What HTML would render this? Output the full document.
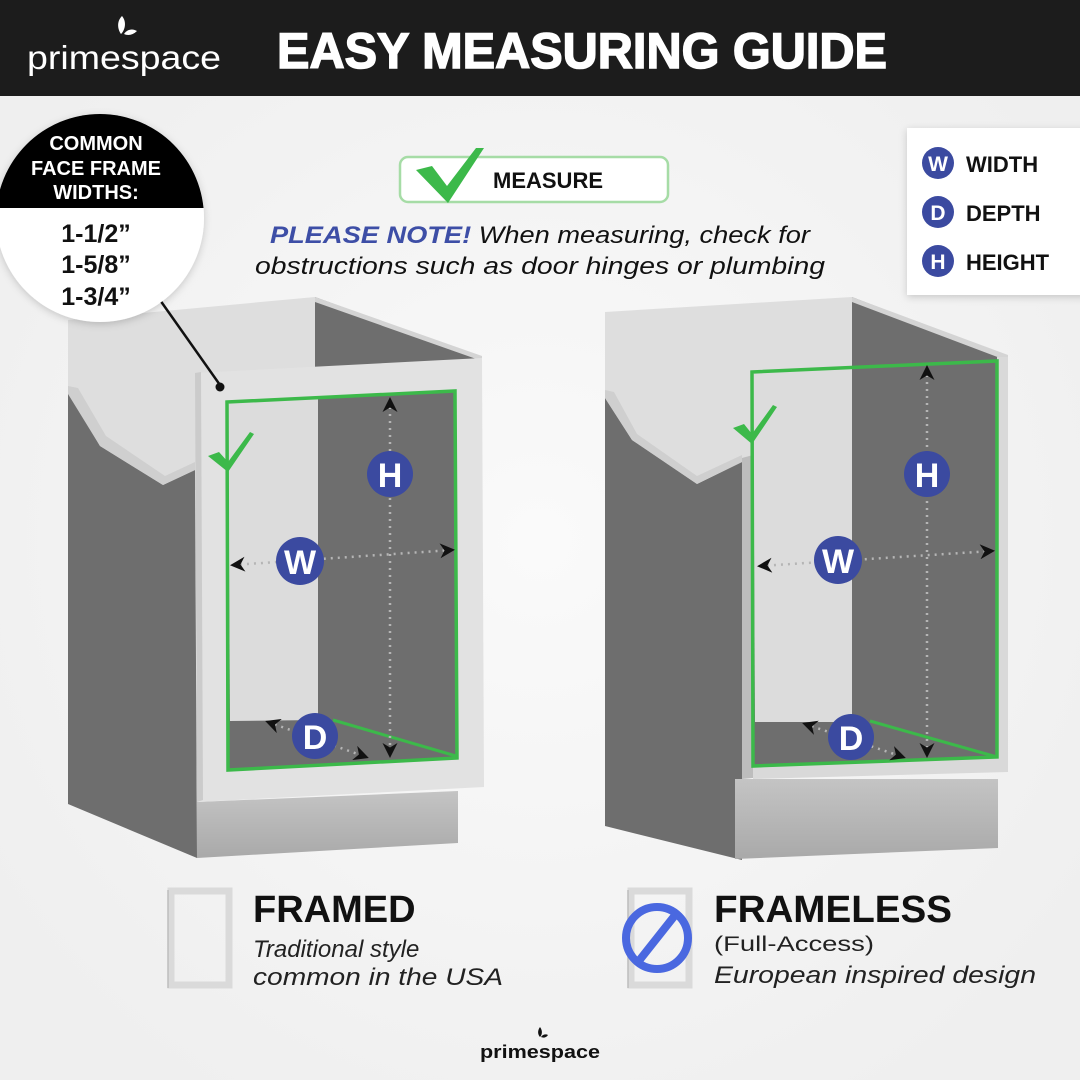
<!DOCTYPE html>
<html><head><meta charset="utf-8"><style>
html,body{margin:0;padding:0;}
body{width:1080px;height:1080px;overflow:hidden;background:#f3f3f3;}
svg{display:block}
text{font-family:"Liberation Sans",sans-serif;}
</style></head><body>
<svg width="1080" height="1080" viewBox="0 0 1080 1080" xmlns="http://www.w3.org/2000/svg">
<defs>
<radialGradient id="bg" cx="0.5" cy="0.5" r="0.6"><stop offset="0" stop-color="#fafafa"/><stop offset="1" stop-color="#efefef"/></radialGradient>
<linearGradient id="toe" x1="0" y1="0" x2="0" y2="1"><stop offset="0" stop-color="#c4c4c4"/><stop offset="1" stop-color="#a9a9a9"/></linearGradient>
<filter id="sh" x="-20%" y="-20%" width="140%" height="140%"><feDropShadow dx="0" dy="2" stdDeviation="4" flood-color="#000" flood-opacity="0.18"/></filter>
<marker id="ar" viewBox="0 0 10 10" refX="8" refY="5" markerWidth="6" markerHeight="6" orient="auto-start-reverse"><path d="M0,0 L10,5 L0,10 L3,5 z" fill="#111"/></marker>
</defs>
<rect width="1080" height="1080" fill="url(#bg)"/>

<!-- header -->
<rect x="0" y="0" width="1080" height="96" fill="#1c1c1c"/>
<path d="M122,16 C116,22 118,30 121,34 C125,30 127,22 122,16 z" fill="#fff"/>
<path d="M124,34 C128,28 134,29 137,31 C133,35 128,36 124,34 z" fill="#fff"/>
<text x="27" y="69" font-size="33" fill="#fff" textLength="194" lengthAdjust="spacingAndGlyphs">primespace</text>
<text x="277" y="68" font-size="50" font-weight="bold" fill="#fff" stroke="#fff" stroke-width="1.5" textLength="610" lengthAdjust="spacingAndGlyphs">EASY MEASURING GUIDE</text>

<!-- LEFT CABINET -->
<polygon points="68,320 315,297 315,490 68,490" fill="#dedede"/>
<polygon points="315,297 482,358 482,780 315,780" fill="#6e6e6e"/>
<polygon points="315,297 482,356 482,361 315,302" fill="#d4d4d4"/>
<polygon points="68,392 100,446 163,485 195,470 197,858 68,804" fill="#6e6e6e"/>
<polygon points="68,386 78,388 106,436 165,476 195,462 195,470 163,485 100,446 68,394" fill="#cfcfcf"/>
<polygon points="197,802 458,791 458,843 197,858" fill="url(#toe)"/>
<polygon points="195,373 482,358 484,787 197,802" fill="#e2e2e2"/>
<polygon points="195,373 201,372 203,800 197,802" fill="#cbcbcb"/>
<!-- opening -->
<polygon points="227,402 455,391 457,758 228,770" fill="#6e6e6e"/>
<polygon points="228,402 318,398 318,720 230,721" fill="#dcdcdc"/>
<polygon points="227,402 455,391 457,758 228,770" fill="none" stroke="#3cb94a" stroke-width="3.5"/>
<line x1="333" y1="720" x2="456" y2="756" stroke="#3cb94a" stroke-width="3"/>
<g stroke="#b5b5b5" stroke-width="2.5" stroke-dasharray="2 5" fill="none">
<line x1="390" y1="400" x2="390" y2="755" marker-start="url(#ar)" marker-end="url(#ar)"/>
<line x1="233" y1="565" x2="452" y2="550" marker-start="url(#ar)" marker-end="url(#ar)"/>
<line x1="268" y1="722" x2="366" y2="757" marker-start="url(#ar)" marker-end="url(#ar)"/>
</g>
<path d="M208,456 L219,452 L228,462 L250,432 L254,434 L228,472 z" fill="#3cb94a"/>
<line x1="160" y1="300" x2="220" y2="385" stroke="#111" stroke-width="2.5"/>
<circle cx="220" cy="387" r="4.5" fill="#111"/>

<!-- RIGHT CABINET -->
<polygon points="605,312 852,297 852,490 605,490" fill="#dedede"/>
<polygon points="852,297 1008,357 1008,770 852,770" fill="#6e6e6e"/>
<polygon points="852,297 1008,355 1008,361 852,302" fill="#d4d4d4"/>
<polygon points="605,398 632,440 697,484 742,462 742,860 605,826" fill="#6e6e6e"/>
<polygon points="605,390 614,392 637,434 697,476 742,455 742,462 697,484 632,440 605,398" fill="#cfcfcf"/>
<polygon points="742,458 753,455 753,778 742,779" fill="#bdbdbd"/>
<polygon points="735,779 998,779 998,848 735,859" fill="url(#toe)"/>
<polygon points="752,372 997,361 997,757 753,766" fill="#6e6e6e"/>
<polygon points="753,372 852,368 852,722 755,722" fill="#dcdcdc"/>
<polygon points="997,357 1008,357 1008,772 997,772" fill="#d9d9d9"/>
<polygon points="753,766 1008,758 1008,772 753,779" fill="#d9d9d9"/>
<polygon points="752,372 997,361 997,757 753,766" fill="none" stroke="#3cb94a" stroke-width="3.5"/>
<line x1="870" y1="721" x2="997" y2="757" stroke="#3cb94a" stroke-width="3"/>
<g stroke="#b5b5b5" stroke-width="2.5" stroke-dasharray="2 5" fill="none">
<line x1="927" y1="368" x2="927" y2="755" marker-start="url(#ar)" marker-end="url(#ar)"/>
<line x1="760" y1="566" x2="992" y2="551" marker-start="url(#ar)" marker-end="url(#ar)"/>
<line x1="805" y1="724" x2="903" y2="757" marker-start="url(#ar)" marker-end="url(#ar)"/>
</g>
<path d="M733,428 L744,424 L752,434 L773,405 L777,407 L752,444 z" fill="#3cb94a"/>

<!-- letter circles -->
<g font-weight="bold" fill="#fff" text-anchor="middle">
<circle cx="390" cy="474" r="23" fill="#3b4aa0"/>
<text x="390" y="487" font-size="34" fill="#fff">H</text>
<circle cx="300" cy="561" r="24" fill="#3b4aa0"/>
<text x="300" y="574" font-size="34" fill="#fff">W</text>
<circle cx="315" cy="736" r="23" fill="#3b4aa0"/>
<text x="315" y="749" font-size="34" fill="#fff">D</text>
<circle cx="927" cy="474" r="23" fill="#3b4aa0"/>
<text x="927" y="487" font-size="34" fill="#fff">H</text>
<circle cx="838" cy="560" r="24" fill="#3b4aa0"/>
<text x="838" y="573" font-size="34" fill="#fff">W</text>
<circle cx="851" cy="737" r="23" fill="#3b4aa0"/>
<text x="851" y="750" font-size="34" fill="#fff">D</text>
</g>

<!-- badge circle -->
<g filter="url(#sh)">
<circle cx="100" cy="218" r="104" fill="#fff"/>
</g>
<clipPath id="cc"><circle cx="100" cy="218" r="104"/></clipPath>
<rect x="-10" y="100" width="220" height="108" fill="#000" clip-path="url(#cc)"/>
<g text-anchor="middle" font-weight="bold">
<text x="96" y="150" font-size="20" fill="#fff">COMMON</text>
<text x="96" y="175" font-size="20" fill="#fff">FACE FRAME</text>
<text x="96" y="199" font-size="20" fill="#fff">WIDTHS:</text>
<text x="96" y="242" font-size="25" fill="#111">1-1/2”</text>
<text x="96" y="273" font-size="25" fill="#111">1-5/8”</text>
<text x="96" y="305" font-size="25" fill="#111">1-3/4”</text>
</g>

<!-- measure box -->
<rect x="400" y="157" width="268" height="45" rx="8" fill="#fff" stroke="#a6dca6" stroke-width="2.5"/>
<path d="M416,170 L432,166 L447,186 L476,148 L484,148 L448,203 z" fill="#3cb94a"/>
<text x="493" y="188" font-size="22" font-weight="bold" fill="#111">MEASURE</text>

<!-- note -->
<text x="270" y="243" font-size="24" font-style="italic" fill="#111" textLength="540" lengthAdjust="spacingAndGlyphs"><tspan font-weight="bold" fill="#3d4ea6">PLEASE NOTE!</tspan> When measuring, check for</text>
<text x="255" y="274" font-size="24" font-style="italic" fill="#111" textLength="570" lengthAdjust="spacingAndGlyphs">obstructions such as door hinges or plumbing</text>

<!-- legend -->
<rect x="907" y="128" width="180" height="167" fill="#fff" filter="url(#sh)"/>
<g font-weight="bold" text-anchor="middle">
<circle cx="938" cy="163" r="16" fill="#3b4aa0"/><text x="938" y="171" font-size="21" fill="#fff">W</text>
<circle cx="938" cy="212" r="16" fill="#3b4aa0"/><text x="938" y="220" font-size="21" fill="#fff">D</text>
<circle cx="938" cy="261" r="16" fill="#3b4aa0"/><text x="938" y="269" font-size="21" fill="#fff">H</text>
</g>
<g font-weight="bold" font-size="22" fill="#111">
<text x="966" y="172">WIDTH</text>
<text x="966" y="221">DEPTH</text>
<text x="966" y="270">HEIGHT</text>
</g>

<!-- bottom labels -->
<rect x="171" y="891" width="58" height="94" fill="none" stroke="#dadada" stroke-width="7"/>
<line x1="168" y1="890" x2="168" y2="988" stroke="#bdbdbd" stroke-width="1.5"/>
<text x="253" y="922" font-size="38" font-weight="bold" fill="#111">FRAMED</text>
<text x="253" y="957" font-size="24" font-style="italic" fill="#222">Traditional style</text>
<text x="253" y="985" font-size="24" font-style="italic" fill="#222" textLength="250" lengthAdjust="spacingAndGlyphs">common in the USA</text>

<rect x="631" y="891" width="58" height="94" fill="none" stroke="#dadada" stroke-width="7"/>
<line x1="628" y1="890" x2="628" y2="988" stroke="#bdbdbd" stroke-width="1.5"/>
<circle cx="657" cy="938" r="31" fill="none" stroke="#4a68e0" stroke-width="8"/>
<line x1="638" y1="962" x2="676" y2="914" stroke="#4a68e0" stroke-width="8"/>
<text x="714" y="922" font-size="38" font-weight="bold" fill="#111" textLength="238" lengthAdjust="spacingAndGlyphs">FRAMELESS</text>
<text x="714" y="951" font-size="21" fill="#222" textLength="160" lengthAdjust="spacingAndGlyphs">(Full-Access)</text>
<text x="714" y="983" font-size="24" font-style="italic" fill="#222" textLength="322" lengthAdjust="spacingAndGlyphs">European inspired design</text>

<!-- footer logo -->
<path d="M540,1027 C537,1031 538,1035 540,1037 C542,1035 543,1031 540,1027 z" fill="#111"/>
<path d="M541,1037 C543,1034 546,1034 548,1035 C546,1038 543,1038 541,1037 z" fill="#111"/>
<text x="540" y="1058" font-size="18" font-weight="bold" fill="#111" text-anchor="middle" textLength="120" lengthAdjust="spacingAndGlyphs">primespace</text>
</svg>
</body></html>
